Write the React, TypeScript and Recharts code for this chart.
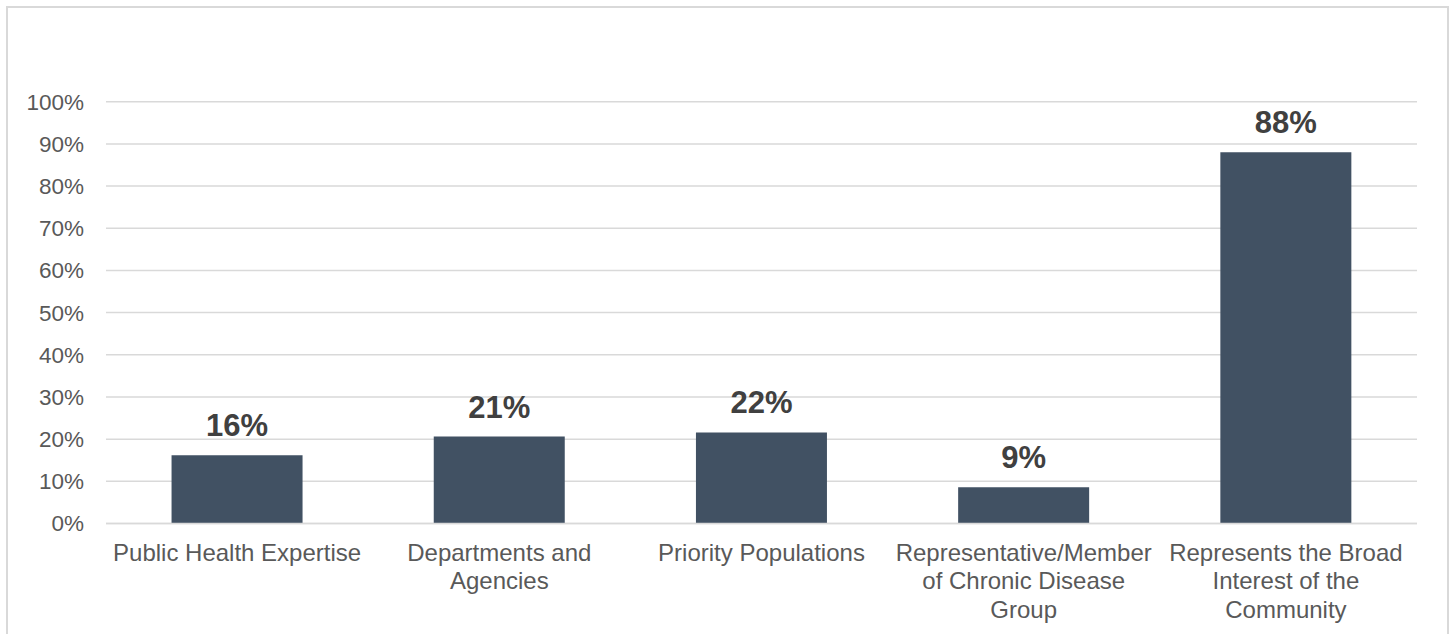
import React from "react";
import { BarChart, Bar, XAxis, YAxis, CartesianGrid, LabelList } from "recharts";

const categories = [
  "Public Health Expertise",
  "Departments and Agencies",
  "Priority Populations",
  "Representative/Member of Chronic Disease Group",
  "Represents the Broad Interest of the Community",
];
const categoryLines: string[][] = [
  ["Public Health Expertise"],
  ["Departments and", "Agencies"],
  ["Priority Populations"],
  ["Representative/Member", "of Chronic Disease", "Group"],
  ["Represents the Broad", "Interest of the", "Community"],
];
const values = [16.2, 20.6, 21.6, 8.6, 88.0];
const yTicks = [0, 10, 20, 30, 40, 50, 60, 70, 80, 90, 100];

const data = categories.map((c, i) => ({ name: c, value: values[i], idx: i }));

const FONT = '"Liberation Sans", Arial, sans-serif';

const CatTick = (props: any) => {
  const { x, y, index } = props;
  const lines = categoryLines[index] || [props.payload.value];
  return (
    <text x={x} y={y} textAnchor="middle" fill="#595959" fontSize={24} fontFamily={FONT}>
      {lines.map((l, i) => (
        <tspan key={i} x={x} dy={i === 0 ? 37 : 28.5}>
          {l}
        </tspan>
      ))}
    </text>
  );
};

export default function App() {
  return (
    <div style={{ position: "absolute", left: 0, top: 0, width: 1450, height: 634, background: "#fff", overflow: "hidden" }}>
      <div
        style={{
          position: "absolute",
          left: 6,
          top: 6,
          width: 1439,
          height: 660,
          border: "2px solid #d9d9d9",
        }}
      />
      <div style={{ position: "absolute", left: 0, top: 0 }}>
        <BarChart
          width={1450}
          height={634}
          data={data}
          margin={{ top: 101.7, right: 33, bottom: 10.5, left: 0 }}
          barCategoryGap="25%"
        >
          <CartesianGrid vertical={false} stroke="#d9d9d9" strokeWidth={1.5} />
          <XAxis
            dataKey="name"
            height={100}
            interval={0}
            tickLine={false}
            tickSize={0}
            tickMargin={0}
            axisLine={{ stroke: "#d9d9d9", strokeWidth: 1.5 }}
            tick={<CatTick />}
          />
          <YAxis
            width={106}
            domain={[0, 100]}
            ticks={yTicks}
            interval={0}
            axisLine={false}
            tickLine={false}
            tickSize={0}
            tickMargin={22}
            tickFormatter={(v: number) => `${v}%`}
            tick={{ fill: "#595959", fontSize: 22.5, fontFamily: FONT }}
          />
          <Bar dataKey="value" fill="#415163" isAnimationActive={false}>
            <LabelList
              dataKey="value"
              position="top"
              offset={19}
              formatter={(v: any) => `${Math.round(Number(v))}%`}
              style={{ fill: "#404040", fontSize: 31, fontWeight: "bold", fontFamily: FONT }}
            />
          </Bar>
        </BarChart>
      </div>
    </div>
  );
}
